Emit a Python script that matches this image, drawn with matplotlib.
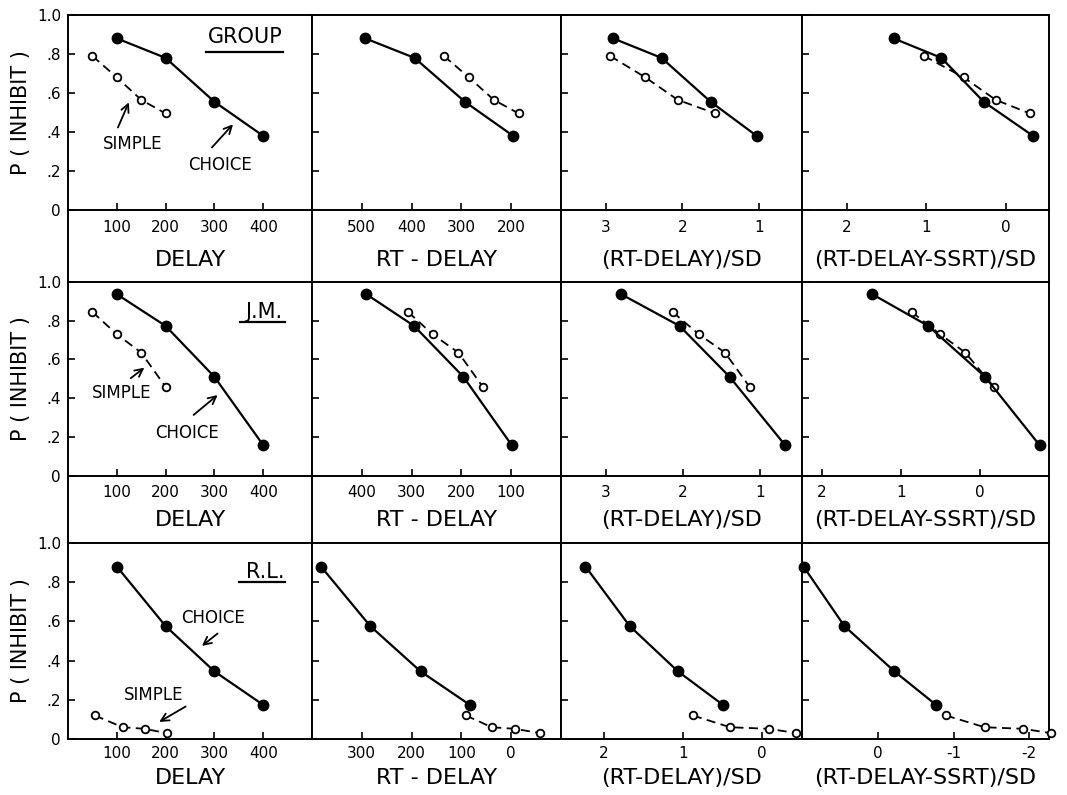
import matplotlib
matplotlib.use("Agg")
import matplotlib.pyplot as plt
from matplotlib.lines import Line2D

plt.rcParams['font.family'] = ['DejaVu Sans']
plt.rcParams['axes.unicode_minus'] = False

# delays (ms)
delay_choice = [100, 200, 300, 400]
delay_simple = [50, 100, 150, 200]
delay_simple_rl = [55, 112, 157, 202]

# GROUP
group_choice_p = [0.88, 0.78, 0.555, 0.38]
group_simple_p = [0.79, 0.68, 0.565, 0.495]
group_choice_rt = [493, 394, 293, 196]
group_simple_rt = [335, 285, 235, 185]
group_choice_z = [2.90, 2.27, 1.63, 1.03]
group_simple_z = [2.94, 2.48, 2.06, 1.57]
group_choice_zs = [1.41, 0.81, 0.28, -0.34]
group_simple_zs = [1.03, 0.53, 0.13, -0.30]

# J.M.
jm_choice_p = [0.937, 0.773, 0.51, 0.157]
jm_simple_p = [0.845, 0.73, 0.635, 0.458]
jm_choice_rt = [391, 295, 196, 99]
jm_simple_rt = [307, 258, 206, 157]
jm_choice_z = [2.80, 2.04, 1.39, 0.67]
jm_simple_z = [2.13, 1.79, 1.45, 1.13]
jm_choice_zs = [1.36, 0.65, -0.07, -0.76]
jm_simple_zs = [0.86, 0.50, 0.18, -0.18]

# R.L.
rl_choice_p = [0.88, 0.576, 0.345, 0.174]
rl_simple_p = [0.12, 0.06, 0.052, 0.03]
rl_choice_rt = [382, 283, 182, 83]
rl_simple_rt = [91, 39, -7, -58]
rl_choice_z = [2.23, 1.67, 1.06, 0.49]
rl_simple_z = [0.87, 0.40, -0.09, -0.44]
rl_choice_zs = [0.98, 0.44, -0.22, -0.77]
rl_simple_zs = [-0.90, -1.41, -1.92, -2.28]

col_titles = ['DELAY', 'RT - DELAY', '(RT-DELAY)/SD', '(RT-DELAY-SSRT)/SD']
y_ticks = [0, 0.2, 0.4, 0.6, 0.8, 1.0]
y_ticklabels = ['0', '.2', '.4', '.6', '.8', '1.0']

rows = [
    dict(name='GROUP', cp=group_choice_p, sp=group_simple_p,
         cx=[delay_choice, group_choice_rt, group_choice_z, group_choice_zs],
         sx=[delay_simple, group_simple_rt, group_simple_z, group_simple_zs]),
    dict(name='J.M.', cp=jm_choice_p, sp=jm_simple_p,
         cx=[delay_choice, jm_choice_rt, jm_choice_z, jm_choice_zs],
         sx=[delay_simple, jm_simple_rt, jm_simple_z, jm_simple_zs]),
    dict(name='R.L.', cp=rl_choice_p, sp=rl_simple_p,
         cx=[delay_choice, rl_choice_rt, rl_choice_z, rl_choice_zs],
         sx=[delay_simple_rl, rl_simple_rt, rl_simple_z, rl_simple_zs]),
]

xlims = [
    [(0, 500), (600, 100), (3.58, 0.44), (2.56, -0.54)],
    [(0, 500), (500, 0), (3.58, 0.45), (2.25, -0.88)],
    [(0, 500), (400, -100), (2.54, -0.51), (1.0, -2.26)],
]
xticks = [
    [[100, 200, 300, 400], [500, 400, 300, 200], [3, 2, 1], [2, 1, 0]],
    [[100, 200, 300, 400], [400, 300, 200, 100], [3, 2, 1], [2, 1, 0]],
    [[100, 200, 300, 400], [300, 200, 100, 0], [2, 1, 0], [0, -1, -2]],
]

W, H = 1067, 795
col_x = [68, 312, 561, 802, 1049]
row_top = [15, 282, 543]
row_bot = [210, 475.5, 739]
label_pads = [11, 7, 5]

fig = plt.figure(figsize=(W / 100, H / 100), dpi=100)

lw = 1.4
axes = []
for r in range(3):
    row_axes = []
    for c in range(4):
        x0, x1 = col_x[c], col_x[c + 1]
        y0, y1 = row_top[r], row_bot[r]
        ax = fig.add_axes([x0 / W, 1 - y1 / H, (x1 - x0) / W, (y1 - y0) / H])
        d = rows[r]
        ax.plot(d['sx'][c], d['sp'], color='black', lw=1.3, ls=(0, (5, 3)),
                marker='o', ms=5.5, mfc='white', mec='black', mew=1.3, clip_on=False, zorder=3)
        ax.plot(d['cx'][c], d['cp'], color='black', lw=1.6, ls='-',
                marker='o', ms=7.5, mfc='black', mec='black', clip_on=False, zorder=4)
        ax.set_xlim(*xlims[r][c])
        ax.set_ylim(0, 1.0)
        ax.set_xticks(xticks[r][c])
        ax.set_xticklabels([str(t) for t in xticks[r][c]], fontsize=11)
        ax.set_yticks(y_ticks)
        if c == 0:
            ax.set_yticklabels(y_ticklabels, fontsize=11)
        else:
            ax.set_yticklabels([])
        ax.tick_params(direction='in', length=5, width=1.2, pad=7 if r < 2 else 5)
        ax.tick_params(axis='y', pad=5)
        for s in ax.spines.values():
            s.set_linewidth(lw)
        ax.set_xlabel(col_titles[c], fontsize=16, labelpad=label_pads[r])
        row_axes.append(ax)
    axes.append(row_axes)
    # y label
    fig.text(21 / W, 1 - (row_top[r] + row_bot[r]) / 2 / H, 'P ( INHIBIT )',
             rotation=90, ha='center', va='center', fontsize=15)

# vertical lines through the label area between rows
for r in range(2):
    for x in col_x:
        fig.add_artist(Line2D([x / W, x / W], [1 - row_bot[r] / H, 1 - row_top[r + 1] / H],
                              transform=fig.transFigure, color='black', lw=lw))

# panel names with underline
name_pos = [(0.725, 0.885, 0.566, 0.881, 0.81),
            (0.80, 0.846, 0.705, 0.89, 0.795),
            (0.81, 0.854, 0.70, 0.89, 0.80)]
for r in range(3):
    ax = axes[r][0]
    tx, ty, u0, u1, uy = name_pos[r]
    ax.text(tx, ty, rows[r]['name'], transform=ax.transAxes, ha='center', va='center', fontsize=15)
    ax.plot([u0, u1], [uy, uy], transform=ax.transAxes, color='black', lw=1.6)

arrow = dict(arrowstyle='->', color='black', lw=1.3, mutation_scale=14)
fs_ann = 12
# GROUP
ax = axes[0][0]
ax.text(133, 0.34, 'SIMPLE', ha='center', va='center', fontsize=fs_ann)
ax.annotate('', xy=(127, 0.565), xytext=(100, 0.41), arrowprops=arrow)
ax.text(311, 0.23, 'CHOICE', ha='center', va='center', fontsize=fs_ann)
ax.annotate('', xy=(342, 0.45), xytext=(291, 0.31), arrowprops=arrow)
# J.M.
ax = axes[1][0]
ax.text(110, 0.425, 'SIMPLE', ha='center', va='center', fontsize=fs_ann)
ax.annotate('', xy=(161, 0.566), xytext=(124, 0.494), arrowprops=arrow)
ax.text(243, 0.221, 'CHOICE', ha='center', va='center', fontsize=fs_ann)
ax.annotate('', xy=(311, 0.425), xytext=(253, 0.304), arrowprops=arrow)
# R.L.
ax = axes[2][0]
ax.text(298, 0.616, 'CHOICE', ha='center', va='center', fontsize=fs_ann)
ax.annotate('', xy=(270, 0.466), xytext=(311, 0.547), arrowprops=arrow)
ax.text(175, 0.224, 'SIMPLE', ha='center', va='center', fontsize=fs_ann)
ax.annotate('', xy=(182, 0.08), xytext=(246, 0.173), arrowprops=arrow)

fig.savefig('out.png', dpi=100)
